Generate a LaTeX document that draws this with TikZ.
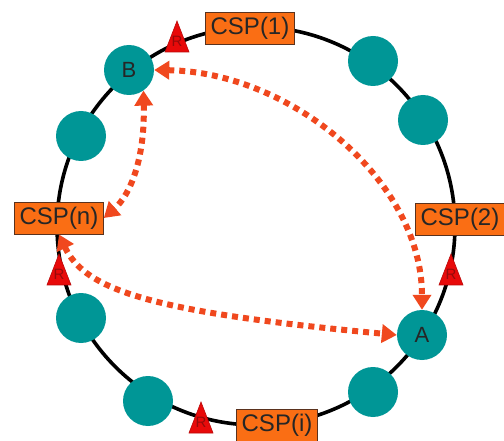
\documentclass[tikz,border=0pt]{standalone}
\usepackage{fontspec}
\setmainfont{Liberation Sans}
\usetikzlibrary{arrows.meta,calc}

\definecolor{ringteal}{RGB}{0,150,150}
\definecolor{cspfill}{RGB}{250,110,20}
\definecolor{cspedge}{RGB}{90,50,30}
\definecolor{linkred}{RGB}{240,72,30}
\definecolor{routerred}{RGB}{232,10,10}
\definecolor{routerdark}{RGB}{150,10,10}

\tikzset{
  peer/.style={circle, fill=ringteal, minimum size=50pt, inner sep=0pt,
    font=\fontsize{22}{22}\selectfont, text=black!85},
  cspbox/.style={draw=cspedge, line width=0.9pt, fill=cspfill, minimum height=32pt,
    inner xsep=5pt, inner ysep=0pt, font=\fontsize{24}{24}\selectfont, text=black!85},
  link/.style={draw=linkred, line width=6pt, dash pattern=on 6pt off 5pt,
    {Triangle[length=15pt,width=18pt]}-{Triangle[length=15pt,width=18pt]}},
  router/.style={fill=routerred, draw=routerred!80!black, line width=0.6pt},
  rlabel/.style={font=\fontsize{15}{15}\selectfont, text=routerdark, inner sep=0pt}
}

\newcommand{\routertri}[1]{%
  \filldraw[router] (#1)+(0,-16) -- +(12,15) -- +(-12,15) -- cycle;
  \node[rlabel] at ($(#1)+(0,4)$) {R};}

\begin{document}
\begin{tikzpicture}[x=1pt,y=-1pt]
  \useasboundingbox[fill=white] (0,0) rectangle (504,441);

  % the ring
  \coordinate (ctr) at (256,226);
  \draw[line width=3.6pt] (ctr) circle[radius=199pt];

  % routers on the ring
  \coordinate (r1) at (177,37);
  \coordinate (rn) at (59,270);
  \coordinate (r2) at (451,270);
  \coordinate (ri) at (201,418);
  \routertri{r1}
  \routertri{rn}
  \routertri{r2}
  \routertri{ri}

  % service providers
  \node[cspbox] (csp1) at (250,28) {CSP(1)};
  \node[cspbox] (cspn) at (59,218) {CSP(n)};
  \node[cspbox] (csp2) at (460,219) {CSP(2)};
  \node[cspbox] (cspi) at (277,425) {CSP(i)};

  % peers
  \node[peer] (B) at (129,70) {B};
  \node[peer] (A) at (422,335) {A};
  \node[peer] (p1) at (373,61) {};
  \node[peer] (p2) at (423,120) {};
  \node[peer] (p3) at (81,136) {};
  \node[peer] (p4) at (81,318) {};
  \node[peer] (p5) at (148,401) {};
  \node[peer] (p6) at (373,392) {};

  % links
  \draw[link] (B.east) .. controls (290,72) and (422,180) .. (A.north);
  \draw[link] (B.-55) .. controls (145,160) and (130,195) .. (cspn.east);
  \draw[link] (cspn.south) .. controls (85,290) and (150,312) .. (A.west);
\end{tikzpicture}
\end{document}
